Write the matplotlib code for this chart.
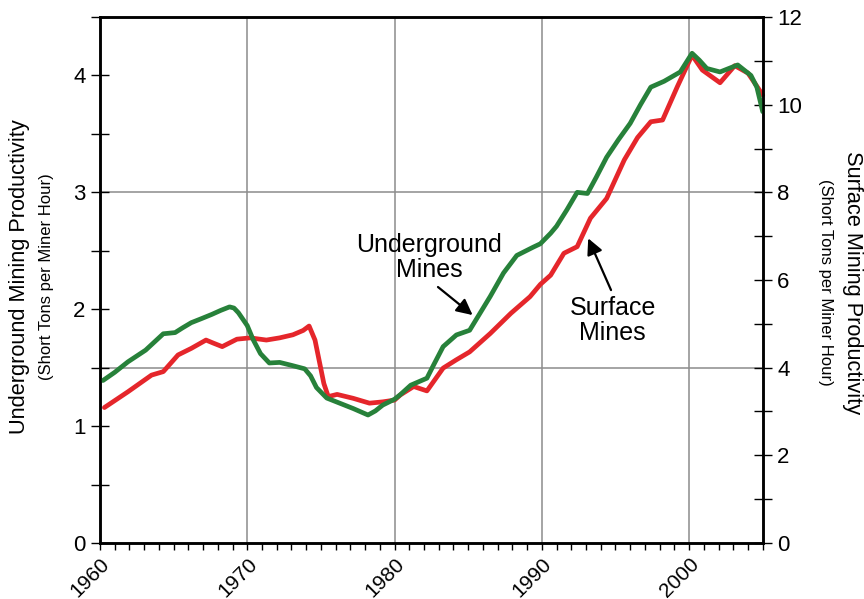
import matplotlib
matplotlib.use('Agg')
import matplotlib.pyplot as plt
import matplotlib.transforms as mtransforms
from matplotlib.ticker import MultipleLocator

plt.rcParams['font.family'] = ['Liberation Sans', 'DejaVu Sans']

# Underground mines, short tons per miner hour (left axis)
ug_years = [1960.2, 1961.0, 1961.9, 1962.5, 1963.1, 1963.7, 1964.3, 1965.1, 1965.6, 1966.2,
            1966.9, 1967.6, 1968.2, 1968.8, 1969.1, 1969.4, 1970.0, 1970.4, 1970.9, 1971.5,
            1972.2, 1973.0, 1973.9, 1974.3, 1974.7, 1975.4, 1976.3, 1977.2, 1978.2, 1978.7,
            1979.2, 1980.0, 1980.4, 1981.1, 1982.2, 1982.6, 1983.3, 1984.2, 1985.1, 1985.8,
            1986.5, 1987.4, 1988.3, 1989.4, 1989.9, 1990.6, 1991.0, 1991.7, 1992.4, 1993.1,
            1993.7, 1994.4, 1995.2, 1996.0, 1996.7, 1997.4, 1998.3, 1999.4, 2000.2, 2000.7,
            2001.2, 2002.1, 2003.3, 2004.2, 2004.6, 2005.0]
ug_values = [1.39, 1.46, 1.55, 1.60, 1.65, 1.72, 1.79, 1.80, 1.84, 1.885,
             1.92, 1.956, 1.99, 2.02, 2.01, 1.97, 1.86, 1.74, 1.62, 1.54,
             1.545, 1.52, 1.49, 1.43, 1.33, 1.24, 1.195, 1.15, 1.095, 1.13,
             1.18, 1.23, 1.27, 1.35, 1.41, 1.51, 1.68, 1.78, 1.82, 1.965,
             2.11, 2.31, 2.46, 2.53, 2.56, 2.65, 2.71, 2.85, 3.00, 2.99,
             3.13, 3.30, 3.45, 3.59, 3.75, 3.90, 3.95, 4.03, 4.19, 4.13,
             4.06, 4.03, 4.09, 4.00, 3.90, 3.69]

# Surface mines, short tons per miner hour (right axis)
sf_years = [1960.3, 1961.1, 1961.9, 1962.7, 1963.5, 1964.3, 1965.3, 1966.2, 1967.2, 1967.7,
            1968.3, 1969.3, 1970.2, 1971.3, 1972.2, 1973.1, 1973.8, 1974.2, 1974.6, 1975.2,
            1975.5, 1976.1, 1977.2, 1978.3, 1979.2, 1980.0, 1980.4, 1981.3, 1982.2, 1983.3,
            1984.2, 1985.1, 1986.5, 1987.9, 1989.2, 1989.9, 1990.6, 1991.5, 1992.4, 1993.3,
            1994.4, 1995.6, 1996.5, 1997.4, 1998.2, 1999.2, 2000.2, 2000.9, 2002.1, 2003.1,
            2004.0, 2005.0]
sf_values = [3.09, 3.27, 3.45, 3.64, 3.83, 3.91, 4.29, 4.44, 4.63, 4.56,
             4.48, 4.65, 4.68, 4.63, 4.68, 4.75, 4.85, 4.95, 4.63, 3.64,
             3.34, 3.39, 3.30, 3.19, 3.22, 3.26, 3.38, 3.57, 3.47, 3.99,
             4.18, 4.36, 4.78, 5.24, 5.62, 5.90, 6.11, 6.61, 6.76, 7.41,
             7.86, 8.74, 9.25, 9.61, 9.65, 10.41, 11.13, 10.79, 10.50, 10.89,
             10.72, 10.22]

decades = [1960, 1970, 1980, 1990, 2000]

GREEN = '#27813a'
RED = '#e5262b'
GRID = '#8c8c8c'


def style_axes(fig, ax, ax2):
    for a in (ax, ax2):
        for s in a.spines.values():
            s.set_linewidth(1.8)
            s.set_color('black')
    ax.set_xlim(1960, 2005)
    ax.set_ylim(0, 4.5)
    ax2.set_ylim(0, 12)

    ax.set_xticks(decades)
    ax.set_xticklabels([str(d) for d in decades], rotation=45, ha='right',
                       va='top', rotation_mode='anchor')
    # nudge the rotated year labels a little to the right, like the original
    shift = mtransforms.ScaledTranslation(4 / 72, 0, fig.dpi_scale_trans)
    for lab in ax.get_xticklabels():
        lab.set_transform(lab.get_transform() + shift)
    ax.xaxis.set_minor_locator(MultipleLocator(1))
    ax.tick_params(axis='x', which='both', direction='out', length=5, width=1,
                   labelsize=15, pad=3, top=False)

    ax.yaxis.set_major_locator(MultipleLocator(1))
    ax.yaxis.set_minor_locator(MultipleLocator(0.5))
    ax.tick_params(axis='y', which='both', direction='inout', length=13, width=1,
                   labelsize=16, pad=4, right=False)

    ax2.yaxis.set_major_locator(MultipleLocator(2))
    ax2.yaxis.set_minor_locator(MultipleLocator(1))
    ax2.tick_params(axis='y', which='both', direction='inout', length=13, width=1,
                    labelsize=16, pad=4)
    ax2.tick_params(axis='x', which='both', bottom=False, top=False)


def plotting():
    fig = plt.figure(figsize=(8.64, 5.99), dpi=100)
    ax = fig.add_axes([0.1157, 0.0935, 0.7671, 0.8781])
    ax2 = ax.twinx()
    # green drawn above red and gridlines
    ax.set_zorder(ax2.get_zorder() + 1)
    ax.patch.set_visible(False)

    for d in decades[1:]:
        ax2.axvline(d, color=GRID, lw=1.1, zorder=0)
    for v in (4, 8):
        ax2.axhline(v, color=GRID, lw=1.1, zorder=0)

    ax2.plot(sf_years, sf_values, color=RED, lw=3.4, solid_capstyle='round',
             solid_joinstyle='round', clip_on=False)
    ax.plot(ug_years, ug_values, color=GREEN, lw=3.4, solid_capstyle='round',
            solid_joinstyle='round', clip_on=False)

    style_axes(fig, ax, ax2)

    # axis titles
    fig.text(0.022, 0.539, 'Underground Mining Productivity', rotation=90,
             ha='center', va='center', fontsize=15.7)
    fig.text(0.054, 0.539, '(Short Tons per Miner Hour)', rotation=90,
             ha='center', va='center', fontsize=12)
    fig.text(0.987, 0.529, 'Surface Mining Productivity', rotation=270,
             ha='center', va='center', fontsize=15.7)
    fig.text(0.955, 0.529, '(Short Tons per Miner Hour)', rotation=270,
             ha='center', va='center', fontsize=12)

    # callouts
    ax.text(1982.35, 2.44, 'Underground\nMines', ha='center', va='center',
            fontsize=18, linespacing=1.05)
    ax.annotate('', xy=(1985.3, 1.95), xytext=(1982.95, 2.19),
                arrowprops=dict(arrowstyle='-|>', color='black', lw=1.6,
                                mutation_scale=24, shrinkA=0, shrinkB=0))
    ax2.text(1994.8, 5.07, 'Surface\nMines', ha='center', va='center',
             fontsize=18, linespacing=1.05)
    ax2.annotate('', xy=(1993.15, 6.95), xytext=(1994.7, 5.77),
                 arrowprops=dict(arrowstyle='-|>', color='black', lw=1.6,
                                 mutation_scale=24, shrinkA=0, shrinkB=0))

    plt.savefig('out.png', dpi=100)


if __name__ == '__main__':
    plotting()
